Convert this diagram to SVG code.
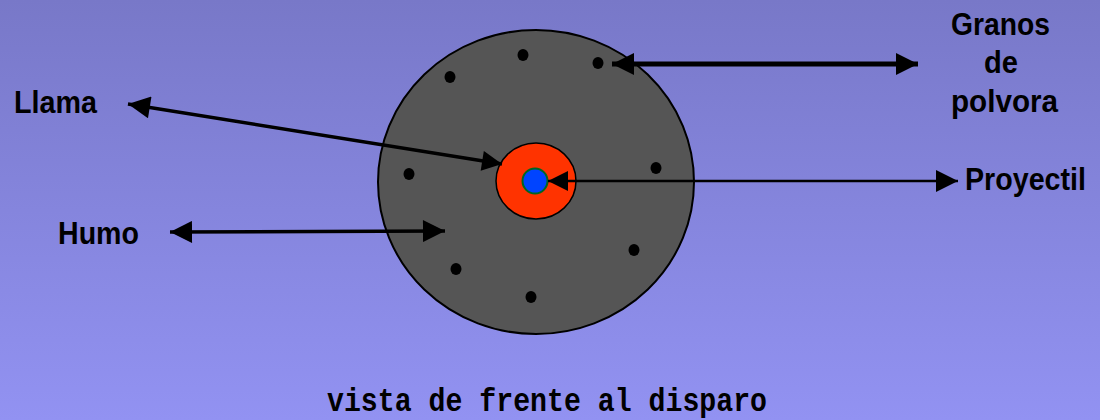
<svg xmlns="http://www.w3.org/2000/svg" width="1100" height="420" viewBox="0 0 1100 420">
<defs>
<linearGradient id="bg" x1="0" y1="0" x2="0" y2="1">
<stop offset="0" stop-color="#7878c8"/>
<stop offset="1" stop-color="#9292f2"/>
</linearGradient>
<marker id="ah" viewBox="0 0 10 10" refX="10" refY="5" markerUnits="userSpaceOnUse" markerWidth="28" markerHeight="22" orient="auto-start-reverse">
<path d="M0,0 L10,5 L0,10 z" fill="#000"/>
</marker>
<marker id="ahs" viewBox="0 0 10 10" refX="10" refY="5" markerUnits="userSpaceOnUse" markerWidth="24" markerHeight="20" orient="auto-start-reverse">
<path d="M0,0 L10,5 L0,10 z" fill="#000"/>
</marker>
</defs>
<style>
.lbl{font-family:"Liberation Sans",Arial,sans-serif;font-weight:bold;font-size:31px;fill:#000}
.cap{font-family:"Liberation Mono","Courier New",monospace;font-weight:bold;font-size:33px;fill:#000}
.dot{fill:#000}
.conn{stroke:#000;fill:none}
</style>
<rect width="1100" height="420" fill="url(#bg)"/>
<g id="disco">
<ellipse cx="536" cy="182" rx="158" ry="152" fill="#555555" stroke="#000" stroke-width="2"/>
</g>
<g id="granos">
<ellipse class="dot" cx="523" cy="55" rx="5.5" ry="6"/>
<ellipse class="dot" cx="598" cy="63" rx="5.5" ry="6"/>
<ellipse class="dot" cx="450" cy="77" rx="5.5" ry="6"/>
<ellipse class="dot" cx="409" cy="174" rx="5.5" ry="6"/>
<ellipse class="dot" cx="656" cy="168" rx="5.5" ry="6"/>
<ellipse class="dot" cx="634" cy="250" rx="5.5" ry="6"/>
<ellipse class="dot" cx="456" cy="269" rx="5.5" ry="6"/>
<ellipse class="dot" cx="531" cy="297" rx="5.5" ry="6"/>
</g>
<g id="llama-circulo">
<ellipse cx="536" cy="181" rx="40" ry="38" fill="#ff3300" stroke="#000" stroke-width="1.5"/>
</g>
<g id="proyectil-circulo">
<circle cx="535" cy="181" r="12.5" fill="#0044ff" stroke="#006622" stroke-width="2"/>
</g>
<g id="connectors">
<line class="conn" x1="612" y1="64" x2="918" y2="64" stroke-width="5" marker-start="url(#ah)" marker-end="url(#ah)"/>
<line class="conn" x1="128" y1="104" x2="502" y2="164" stroke-width="3.5" marker-start="url(#ah)" marker-end="url(#ahs)"/>
<line class="conn" x1="548" y1="181" x2="958" y2="181" stroke-width="2.5" marker-start="url(#ahs)" marker-end="url(#ah)"/>
<line class="conn" x1="170" y1="232" x2="445" y2="231" stroke-width="3.5" marker-start="url(#ah)" marker-end="url(#ah)"/>
</g>
<g id="labels">
<text class="lbl" x="14" y="113" textLength="83" lengthAdjust="spacingAndGlyphs">Llama</text>
<text class="lbl" x="58" y="244" textLength="81" lengthAdjust="spacingAndGlyphs">Humo</text>
<text class="lbl" x="951" y="35" textLength="99" lengthAdjust="spacingAndGlyphs">Granos</text>
<text class="lbl" x="984" y="73" textLength="34" lengthAdjust="spacingAndGlyphs">de</text>
<text class="lbl" x="951" y="112" textLength="107" lengthAdjust="spacingAndGlyphs">polvora</text>
<text class="lbl" x="965" y="190" textLength="121" lengthAdjust="spacingAndGlyphs">Proyectil</text>
<text class="cap" x="327" y="411" textLength="440" lengthAdjust="spacingAndGlyphs">vista de frente al disparo</text>
</g>
</svg>
